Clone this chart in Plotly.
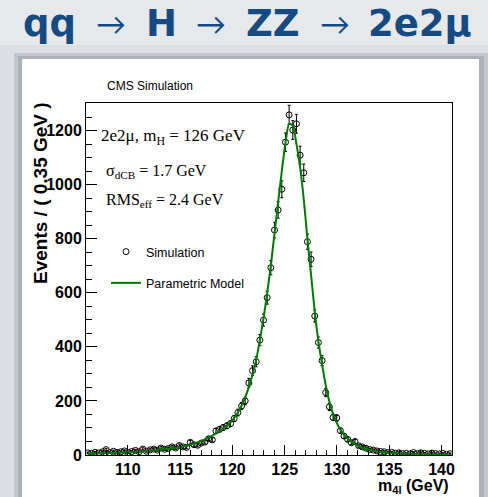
import numpy as np
import plotly.graph_objects as go

# ---- data ----
bin_lo, bin_w, n_bins = 106.0, 0.35, 100
m4l = [round(bin_lo + bin_w * (i + 0.5), 3) for i in range(n_bins)]

sim_events = [
    8, 6, 10, 8, 12, 20, 9, 14, 10, 12,
    15, 9, 13, 17, 12, 22, 14, 19, 22, 18,
    26, 21, 24, 30, 26, 35, 30, 28, 47, 38,
    36, 44, 48, 60, 56, 89, 95, 102, 108, 116,
    135, 157, 181, 200, 267, 312, 345, 425, 499, 582,
    693, 832, 906, 983, 1157, 1258, 1202, 1225, 1109, 1044,
    789, 724, 514, 416, 349, 231, 178, 139, 137, 90,
    70, 58, 45, 50, 34, 30, 25, 20, 18, 15,
    13, 12, 9, 10, 7, 8, 5, 6, 4, 9,
    5, 8, 6, 4, 7, 5, 4, 6, 3, 5,
]

model_curve = [
    5.8, 6.1, 6.4, 6.8, 7.2, 7.6, 8.0, 8.5, 9.0, 9.6,
    10.2, 10.8, 11.5, 12.2, 13, 14, 15, 16, 17, 18,
    19.5, 21, 22.5, 24.5, 26.5, 29, 31.5, 34.5, 38, 42,
    47, 52, 58, 65, 72, 80, 88, 97, 108, 121,
    137, 157, 182, 213, 252, 298, 352, 425, 505, 600,
    700, 820, 935, 1050, 1155, 1226, 1218, 1150, 1065, 945,
    800, 665, 530, 420, 335, 258, 197, 152, 119, 94,
    75, 60, 49, 40, 33, 27, 22.5, 19, 16, 13.6,
    11.6, 10, 8.7, 7.6, 6.7, 6.0, 5.4, 4.9, 4.4, 4.0,
    3.7, 3.4, 3.1, 2.9, 2.7, 2.5, 2.3, 2.2, 2.1, 2.0,
]

x_range = [106, 141]
y_range = [0, 1302]

title_parts = ["qq", "→", "H", "→", "ZZ", "→", "2e2μ"]
title_centers_px = [49.5, 110.7, 161, 211.3, 273, 334.6, 419.8]

# ---- geometry helpers (pixel -> paper) ----
W, H = 488, 497
L, R, T, B = 86, 452, 103, 455
def px(x):
    return (x - L) / (R - L)
def py(y):
    return (B - y) / (B - T)

fig = go.Figure()

fig.add_trace(go.Scatter(
    x=m4l, y=sim_events, mode="markers", name="Simulation",
    marker=dict(symbol="circle-open", size=6, color="black", line=dict(width=1, color="black")),
    error_y=dict(type="data", array=np.sqrt(sim_events), visible=True,
                 color="black", thickness=1, width=1.5),
    legendgroup="a",
))
fig.add_trace(go.Scatter(
    x=m4l, y=model_curve, mode="lines", name="Parametric Model",
    line=dict(color="#007a00", width=2, shape="spline", smoothing=0.6),
    legendgroup="b",
))

# background panel with shadow
shapes = [
    dict(type="rect", xref="paper", yref="paper", x0=px(0), x1=px(488), y0=py(0), y1=py(45),
         fillcolor="#e6e9ec", line=dict(width=0), layer="below"),
    dict(type="rect", xref="paper", yref="paper", x0=px(14), x1=px(488), y0=py(497), y1=py(53),
         fillcolor="rgba(90,95,105,0.18)", line=dict(width=0), layer="below"),
    dict(type="rect", xref="paper", yref="paper", x0=px(18), x1=px(484), y0=py(497), y1=py(56),
         fillcolor="rgba(90,95,105,0.22)", line=dict(width=0), layer="below"),
    dict(type="rect", xref="paper", yref="paper", x0=px(22), x1=px(479), y0=py(497), y1=py(59),
         fillcolor="white", line=dict(width=0), layer="below"),
]

serif = "Liberation Serif, Times New Roman, serif"
sans = "Liberation Sans, Arial, Helvetica, sans-serif"
title_color = "#164a82"

annotations = []
for part, cx in zip(title_parts, title_centers_px):
    if part == "→":
        f = dict(family="Lato, DejaVu Sans, sans-serif", size=30, color=title_color, weight=400)
    else:
        f = dict(family="DejaVu Sans, sans-serif", size=37, color=title_color, weight="bold")
    annotations.append(dict(text=part, xref="paper", yref="paper", x=px(cx), y=py(23),
                            xanchor="center", yanchor="middle", showarrow=False, font=f))

annotations += [
    dict(text="CMS Simulation", xref="paper", yref="paper", x=px(105), y=py(86),
         xanchor="left", yanchor="middle", showarrow=False,
         font=dict(family=sans, size=12, color="black")),
    dict(text="2e2μ, m<sub>H</sub> = 126 GeV", xref="paper", yref="paper", x=px(99), y=py(124),
         xanchor="left", yanchor="top", showarrow=False,
         font=dict(family=serif, size=17, color="black")),
    dict(text="σ<sub>dCB</sub> = 1.7 GeV", xref="paper", yref="paper", x=px(104), y=py(160),
         xanchor="left", yanchor="top", showarrow=False,
         font=dict(family=serif, size=16, color="black")),
    dict(text="RMS<sub>eff</sub> = 2.4 GeV", xref="paper", yref="paper", x=px(104), y=py(189),
         xanchor="left", yanchor="top", showarrow=False,
         font=dict(family=serif, size=16, color="black")),
    dict(text="<b>Events / ( 0.35 GeV )</b>", xref="paper", yref="paper", x=px(40), y=py(100),
         xanchor="center", yanchor="top", textangle=-90, showarrow=False,
         font=dict(family=sans, size=19, color="black")),
    dict(text="<b>m<sub>4l</sub> (GeV)</b>", xref="paper", yref="paper", x=px(451), y=py(475),
         xanchor="right", yanchor="top", showarrow=False,
         font=dict(family=sans, size=16, color="black")),
]

fig.update_layout(
    width=W, height=H,
    margin=dict(l=L, r=W - R, t=T, b=H - B, pad=0),
    paper_bgcolor="#dcdfe3", plot_bgcolor="white",
    shapes=shapes, annotations=annotations,
    showlegend=True,
    legend=dict(x=px(106), y=py(237), xanchor="left", yanchor="top",
                bgcolor="rgba(0,0,0,0)", tracegroupgap=12, itemwidth=30,
                font=dict(family=sans, size=12.5, color="black")),
    xaxis=dict(range=x_range, showgrid=False, zeroline=False,
               showline=True, linecolor="black", linewidth=1, mirror=True,
               ticks="inside", ticklen=10, tickwidth=1, tickcolor="black",
               tick0=110, dtick=5,
               minor=dict(ticks="inside", ticklen=5, dtick=1, tick0=106, tickcolor="black"),
               tickfont=dict(family=sans, size=16, color="black", weight="bold")),
    yaxis=dict(range=y_range, showgrid=False, zeroline=False,
               showline=True, linecolor="black", linewidth=1, mirror=True,
               ticks="inside", ticklen=11, tickwidth=1, tickcolor="black",
               tick0=0, dtick=200,
               minor=dict(ticks="inside", ticklen=6, dtick=50, tickcolor="black"),
               tickfont=dict(family=sans, size=16, color="black", weight="bold")),
)

fig.write_html("out.html")
